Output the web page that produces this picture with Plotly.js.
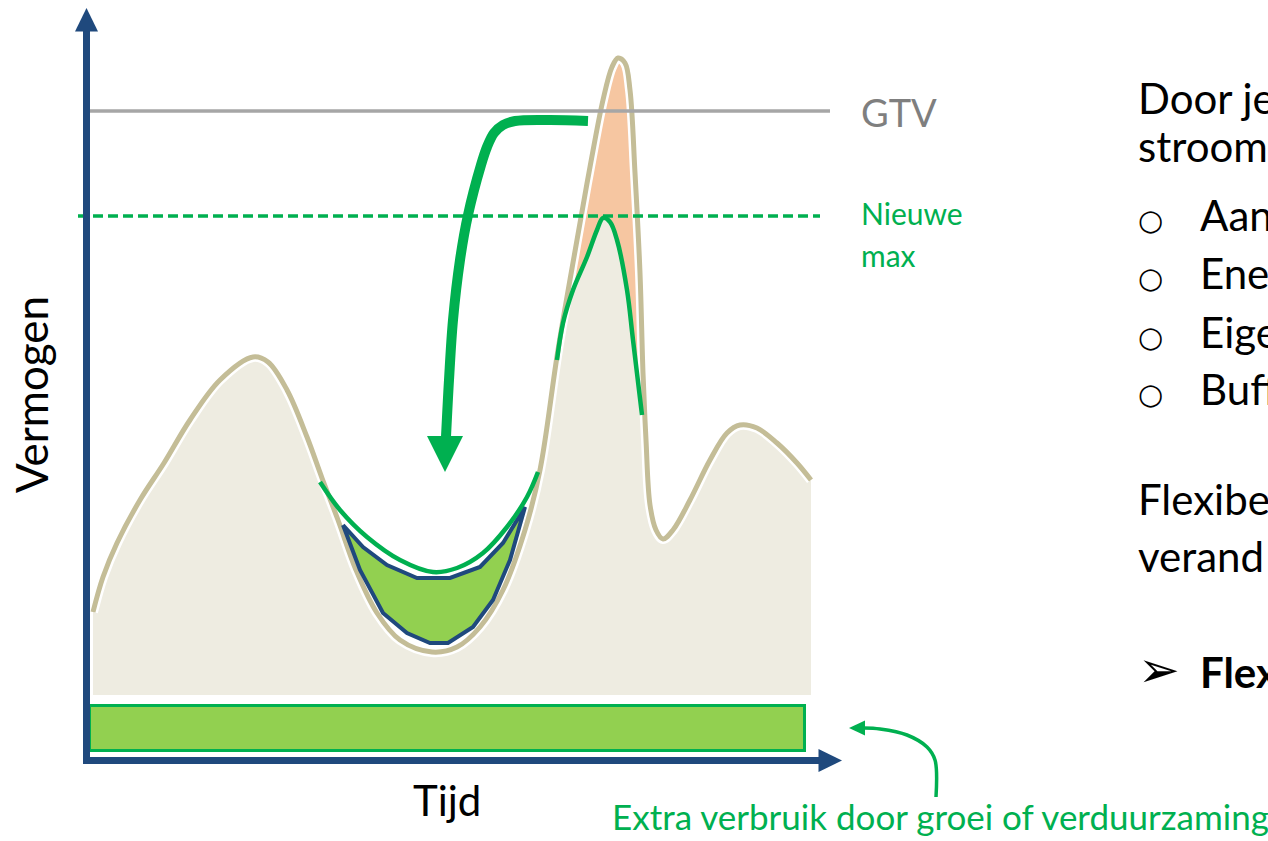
<!DOCTYPE html>
<html><head><meta charset="utf-8">
<script src="https://cdn.plot.ly/plotly-3.0.1.min.js"></script>
<style>html,body{margin:0;padding:0;background:#fff;overflow:hidden}#chart{width:1268px;height:841px}</style>
</head><body><div id="chart"></div>
<script>
// ---- data (Tijd / Vermogen in diagram units) ----
const loadTime  = [0.6,1.6,3.0,5.3,7.7,10.3,13.3,16.6,18.1,20.0,22.0,23.5,25.1,26.9,29.0,31.3,34.5,37.0,39.3,41.6,43.8,45.3,47.1,49.0,50.3,51.6,52.5,53.1,53.8,54.3,54.8,55.3,55.6,55.9,56.3,56.9,57.6,58.6,60.3,62.3,64.0,65.3,67.0,69.0,71.0,72.4];
const loadPower = [14.8,18.3,21.7,26.0,29.7,34.0,38.0,40.3,39.8,37.0,32.3,28.2,24.0,19.0,14.7,12.0,10.8,11.3,13.3,17.0,23.0,29.0,41.0,52.0,59.3,66.0,69.3,70.2,69.7,67.0,58.7,48.7,38.7,32.0,25.5,23.0,22.1,23.0,26.0,30.0,32.7,33.5,33.2,31.7,29.7,28.0];
const baseLevel = 6.5;

const newPeakTime  = [47.0,47.6,48.6,50.0,51.0,51.6,52.3,53.0,54.0,54.6,55.5];
const newPeakPower = [40.0,43.7,47.0,50.3,53.0,54.2,53.8,52.0,47.0,42.0,34.5];

const newDipTime  = [23.3,25.3,28.0,31.3,34.6,37.0,39.6,42.0,44.0,45.1];
const newDipPower = [27.8,25.0,22.3,20.0,18.8,19.2,20.7,23.3,26.3,28.8];

const shiftedTime  = [25.6,27.6,30.0,33.0,36.3,39.3,41.6,43.8,42.3,40.6,38.6,36.1,34.3,32.0,29.6,27.3,25.6];
const shiftedPower = [23.5,21.3,19.5,18.2,18.2,19.3,21.7,25.3,20.0,16.0,13.3,11.7,11.7,12.7,14.7,19.0,23.5];

const gtvLevel = 64.9;
const newMaxLevel = 54.4;

const shiftArrowTime  = [50.1,46.3,42.8,41.6,40.7,40.0,39.4,38.1,37.3,36.6,36.2,35.9];
const shiftArrowPower = [63.9,64.0,63.9,63.5,62.7,61.3,59.5,54.5,50.0,44.0,38.0,32.3];

const growthArrowTime  = [84.9,84.8,84.0,82.0,79.3,77.7];
const growthArrowPower = [-3.7,0.0,1.3,2.5,3.1,3.2];

const extraStart = 0.25, extraEnd = 71.75, extraLow = 0.95, extraHigh = 5.45;
const timeAxisEnd = 75.5, powerAxisEnd = 75.2;

// ---- styles ----
const C = {fill:'#eeece1', outline:'#c4bd97', orange:'#f6c6a1', green:'#00b050', lightGreen:'#92d050',
           blue:'#1f497d', gray:'#a6a6a6', grayText:'#7f7f7f'};
const FONT = 'Lato, "Open Sans", sans-serif';
const none = {width:0, color:'rgba(0,0,0,0)'};

function head(tx, ty, dx, dy, len, half){ // triangle arrowhead, direction (dx,dy) unit
  const bx = tx - dx*len, by = ty - dy*len, nx = -dy, ny = dx;
  return {x:[tx, bx+nx*half, bx-nx*half, tx], y:[ty, by+ny*half, by-ny*half, ty]};
}
function poly(p, color){ return {x:p.x, y:p.y, mode:'lines', fill:'toself', fillcolor:color, line:none, hoverinfo:'skip'}; }

const segIdx = loadTime.map((t,i)=>i).filter(i=>loadTime[i]>=newPeakTime[0] && loadTime[i]<=55.9);
const traces = [];
// area under load curve
traces.push({x:[loadTime[0], loadTime[loadTime.length-1]], y:[baseLevel, baseLevel], mode:'lines', line:none, hoverinfo:'skip'});
traces.push({x:loadTime, y:loadPower, mode:'lines', line:{width:0, color:'rgba(0,0,0,0)', shape:'spline'}, fill:'tonexty', fillcolor:C.fill, hoverinfo:'skip'});
// peak above new max (orange)
traces.push({x:newPeakTime, y:newPeakPower, mode:'lines', line:{width:0, color:'rgba(0,0,0,0)', shape:'spline'}, hoverinfo:'skip'});
traces.push({x:segIdx.map(i=>loadTime[i]), y:segIdx.map(i=>loadPower[i]), mode:'lines', line:{width:0, color:'rgba(0,0,0,0)', shape:'spline'}, fill:'tonexty', fillcolor:C.orange, hoverinfo:'skip'});
// outline
traces.push({x:loadTime, y:loadPower, mode:'lines', line:{width:10, color:'#ffffff', shape:'spline'}, hoverinfo:'skip'});
traces.push({x:loadTime, y:loadPower, mode:'lines', line:{width:5, color:C.outline, shape:'spline'}, hoverinfo:'skip'});
// shifted consumption
traces.push({x:shiftedTime, y:shiftedPower, mode:'lines', fill:'toself', fillcolor:C.lightGreen, line:{width:4, color:C.blue}, hoverinfo:'skip'});
// new profile
traces.push({x:newDipTime, y:newDipPower, mode:'lines', line:{width:4.5, color:C.green, shape:'spline'}, hoverinfo:'skip'});
traces.push({x:newPeakTime, y:newPeakPower, mode:'lines', line:{width:4.5, color:C.green, shape:'spline'}, hoverinfo:'skip'});
// extra consumption band
traces.push({x:[extraStart,extraEnd,extraEnd,extraStart,extraStart], y:[extraLow,extraLow,extraHigh,extraHigh,extraLow], mode:'lines', fill:'toself', fillcolor:C.lightGreen, line:{width:3, color:C.green}, hoverinfo:'skip'});
// GTV + new max
traces.push({x:[0, 74.3], y:[gtvLevel, gtvLevel], mode:'lines', line:{width:3.5, color:C.gray}, hoverinfo:'skip'});
traces.push({x:[-0.9, 73.3], y:[newMaxLevel, newMaxLevel], mode:'lines', line:{width:3.5, color:C.green, dash:'10px,5px'}, hoverinfo:'skip'});
// axes
traces.push({x:[-0.05,-0.05], y:[-0.35, powerAxisEnd-2.3], mode:'lines', line:{width:7, color:C.blue}, hoverinfo:'skip'});
traces.push(poly(head(-0.05, powerAxisEnd, 0, 1, 2.35, 1.15), C.blue));
traces.push({x:[-0.4, timeAxisEnd-2.3], y:[-0.05,-0.05], mode:'lines', line:{width:7, color:C.blue}, hoverinfo:'skip'});
traces.push(poly(head(timeAxisEnd, -0.05, 1, 0, 2.35, 1.15), C.blue));
// shift arrow
traces.push({x:shiftArrowTime, y:shiftArrowPower, mode:'lines', line:{width:10, color:C.green, shape:'spline'}, hoverinfo:'skip'});
traces.push(poly(head(35.8, 28.8, 0, -1, 3.6, 1.8), C.green));
// growth arrow
traces.push({x:growthArrowTime, y:growthArrowPower, mode:'lines', line:{width:3.5, color:C.green, shape:'spline'}, hoverinfo:'skip'});
traces.push(poly(head(76.2, 3.2, -1, 0, 1.6, 0.75), C.green));

// ---- text ----
const W = 1268, H = 841;
function ann(text, px, py, size, color, opts){
  return Object.assign({text:text, x:px/W, y:1-py/H, xref:'paper', yref:'paper', showarrow:false,
    xanchor:'left', yanchor:'middle', font:{family:FONT, size:size, color:color}}, opts||{});
}
const annotations = [
  ann('GTV', 859, 112, 38, C.grayText),
  ann('Nieuwe', 859, 213, 30, C.green),
  ann('max', 859, 255, 30, C.green),
  ann('Vermogen', 31, 395, 44, '#000', {xanchor:'center', textangle:-90}),
  ann('Tijd', 447, 800, 42, '#000', {xanchor:'center'}),
  ann('Extra verbruik door groei of verduurzaming', 610, 816, 35, C.green),
  ann('Door je', 1136, 98, 42, '#000'),
  ann('stroom', 1136, 146, 42, '#000'),
  ann('Aan', 1198, 215, 42, '#000'),
  ann('Ene', 1198, 273, 42, '#000'),
  ann('Eige', 1198, 332, 42, '#000'),
  ann('Buff', 1198, 389, 42, '#000'),
  ann('Flexibe', 1136, 499, 42, '#000'),
  ann('verand', 1136, 556, 42, '#000'),
  ann('<b>Flex</b>', 1198, 672, 42, '#000'),
  ann('➢', 1136, 670, 50, '#000', {font:{family:'"DejaVu Sans"', size:50, color:'#000'}}),
];
[220, 278, 337, 394].forEach(py => annotations.push(ann('○', 1136, py, 29, '#000', {font:{family:'"DejaVu Sans"', size:29, color:'#000'}})));

const layout = {
  width:W, height:H, margin:{l:0,r:0,t:0,b:0}, paper_bgcolor:'#fff', plot_bgcolor:'#fff',
  showlegend:false, hovermode:false,
  xaxis:{range:[-8.7, 118.1], visible:false, fixedrange:true},
  yaxis:{range:[-8.1, 76.0], visible:false, fixedrange:true},
  annotations:annotations
};
Plotly.newPlot('chart', traces, layout, {staticPlot:true, displayModeBar:false});
</script></body></html>
